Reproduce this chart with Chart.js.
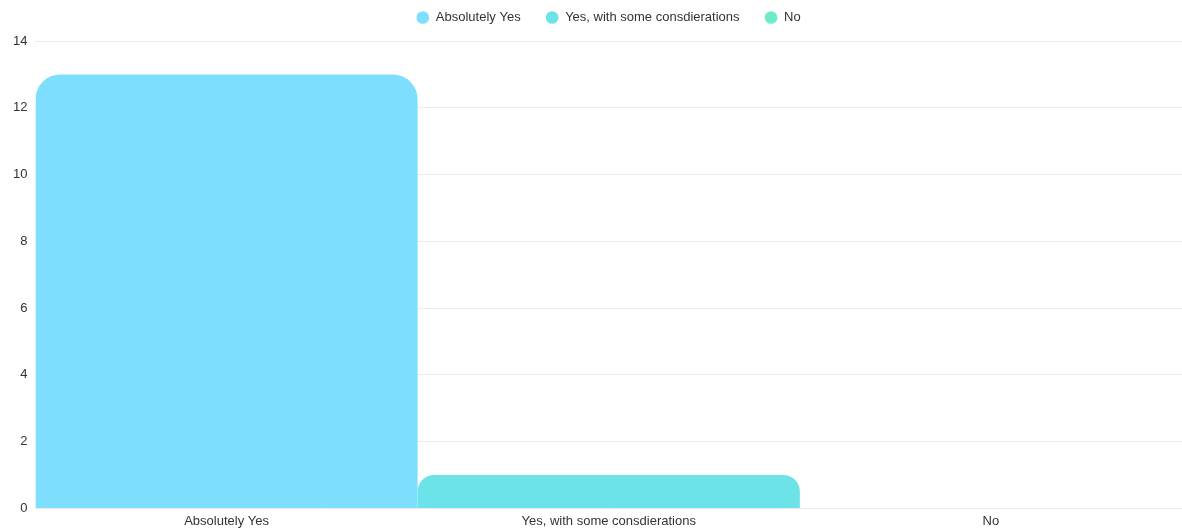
<!DOCTYPE html>
<html>
<head>
<meta charset="utf-8">
<script src="https://cdn.jsdelivr.net/npm/chart.js@4/dist/chart.umd.min.js"></script>
<style>
  html, body { margin: 0; padding: 0; background: #fff; }
  #wrap { width: 1182px; height: 529px; }
</style>
</head>
<body>
<div id="wrap"><canvas id="myChart"></canvas></div>
<script>
const categories = ['Absolutely Yes', 'Yes, with some consdierations', 'No'];
const answers = [13, 1, 0];
const barColors = ['#7ddffd', '#6ce3e8', '#6debc9'];

// one dataset per answer so the legend lists each of them;
// stacking on x keeps every bar the full width of its category
const datasets = categories.map(function (name, i) {
    return {
        label: name,
        data: categories.map(function (c, j) { return j === i ? answers[i] : null; }),
        backgroundColor: barColors[i],
        borderWidth: 0,
        borderRadius: { topLeft: 25, topRight: 25 },
        borderSkipped: 'bottom',
        // no auto inflate, otherwise an empty bar shows as a hairline at zero
        inflateAmount: 0,
        barPercentage: 1,
        categoryPercentage: 1
    };
});

// wider gaps between legend items without a tall legend box
const legendSpacing = {
    id: 'legendSpacing',
    beforeInit(chart) {
        const fit = chart.legend.fit;
        chart.legend.fit = function () {
            fit.bind(chart.legend)();
            this.height = 41;
        };
    },
    afterLayout(chart) {
        const lg = chart.legend;
        lg.top -= 14;
        lg.bottom -= 14;
        lg.left += 15;
        lg.right += 15;
    }
};

Chart.defaults.font.family = '"Liberation Sans", Arial, sans-serif';
Chart.defaults.font.size = 13;
Chart.defaults.color = '#333';

const ctx = document.querySelector('#myChart').getContext('2d');
const myChart = new Chart(ctx, {
    type: 'bar',
    data: {
        labels: categories,
        datasets: datasets
    },
    plugins: [legendSpacing],
    options: {
        responsive: true,
        maintainAspectRatio: false,
        animation: false,
        layout: { padding: { top: 0, right: 0, bottom: -5, left: 5 } },
        plugins: {
            legend: {
                position: 'top',
                labels: {
                    usePointStyle: true,
                    pointStyle: 'circle',
                    boxWidth: 13,
                    boxHeight: 9,
                    padding: 25
                }
            },
            tooltip: { enabled: false }
        },
        scales: {
            x: {
                stacked: true,
                grid: { display: false, drawTicks: false },
                border: { display: false },
                ticks: { padding: 5 }
            },
            y: {
                min: 0,
                max: 14,
                ticks: { stepSize: 2, padding: 8 },
                grid: { color: '#ebebeb', drawTicks: false },
                border: { display: false }
            }
        }
    }
});
</script>
</body>
</html>
